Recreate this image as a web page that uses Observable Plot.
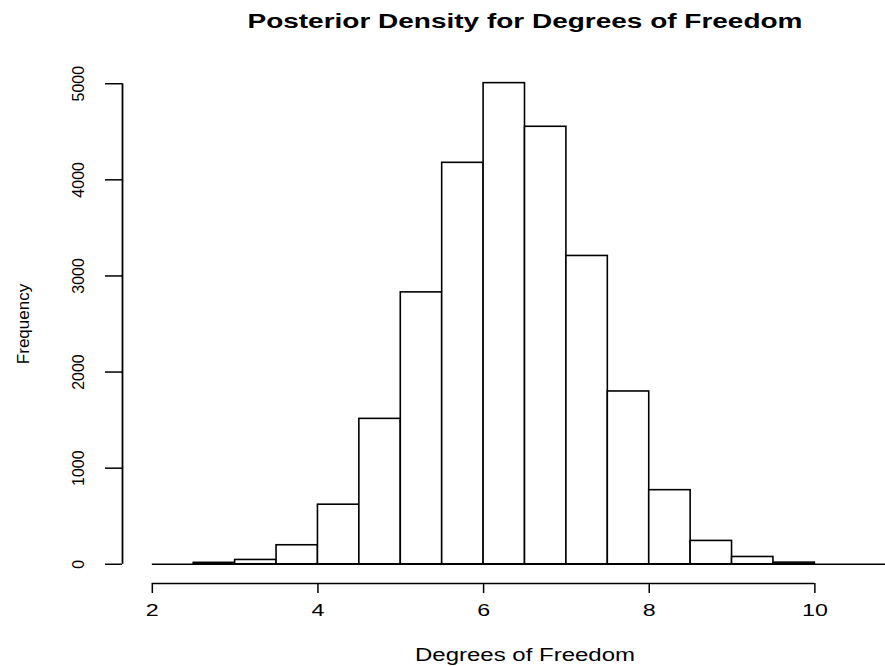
<!DOCTYPE html>
<html>
<head>
<meta charset="utf-8">
<script src="https://cdn.jsdelivr.net/npm/d3@7"></script>
<script src="https://cdn.jsdelivr.net/npm/@observablehq/plot@0.6"></script>
<style>
  html, body { margin: 0; padding: 0; background: #fff; }
  #chart svg { overflow: visible; display: block; }
</style>
</head>
<body>
<div id="chart"></div>
<script>
const binStarts = [2, 2.5, 3, 3.5, 4, 4.5, 5, 5.5, 6, 6.5, 7, 7.5, 8, 8.5, 9, 9.5, 10, 10.5];
const binWidth = 0.5;
const counts = [0, 15, 45, 198, 620, 1513, 2829, 4177, 5006, 4552, 3208, 1798, 771, 243, 76, 17, 0, 0];
const xTicks = [2, 4, 6, 8, 10];
const yTicks = [0, 1000, 2000, 3000, 4000, 5000];
const titleText = "Posterior Density for Degrees of Freedom";
const xLabel = "Degrees of Freedom";
const yLabel = "Frequency";

const bins = binStarts.map((s, i) => ({x1: s, x2: s + binWidth, count: counts[i]}));
const xMin = binStarts[0], xMax = binStarts[binStarts.length - 1] + binWidth;
const xPad = (xMax - xMin) * 0.04;
const yMax = 5000, yPad = yMax * 0.04;

const chart = Plot.plot({
  width: 885,
  height: 666,
  marginLeft: 122,
  marginRight: -42,
  marginTop: 64,
  marginBottom: 83,
  style: {fontFamily: "Liberation Sans, Arial, sans-serif", background: "white", color: "black"},
  x: {domain: [xMin - xPad, xMax + xPad], ticks: xTicks},
  y: {domain: [-yPad, yMax + yPad], ticks: yTicks},
  marks: [
    Plot.ruleY([0], {x1: xMin, x2: xMax, stroke: "black", strokeWidth: 1.6}),
    Plot.rectY(bins.filter(d => d.count > 0), {x1: "x1", x2: "x2", y1: 0, y2: "count", fill: "white", stroke: "black", strokeWidth: 1.6}),
    Plot.ruleY([-yPad], {x1: xTicks[0], x2: xTicks[xTicks.length - 1], stroke: "black", strokeWidth: 1.5}),
    Plot.ruleX([xMin - xPad], {y1: yTicks[0], y2: yTicks[yTicks.length - 1], stroke: "black", strokeWidth: 1.8}),
    Plot.axisX(xTicks, {tickSize: 10, tickPadding: 11, fontSize: 16, label: null, strokeWidth: 1.5, tickFormat: d3.format("d")}),
    Plot.axisY(yTicks, {tickSize: 17, tickPadding: 22, fontSize: 16, tickRotate: -90, label: null, textAnchor: "middle", strokeWidth: 1.5, tickFormat: d3.format("d")}),
    Plot.text([xLabel], {frameAnchor: "bottom", dy: 77, fontSize: 18, text: d => d}),
    Plot.text([yLabel], {frameAnchor: "left", dx: -99, rotate: -90, textAnchor: "middle", fontSize: 17, text: d => d}),
    Plot.text([titleText], {frameAnchor: "top", dy: -50, fontSize: 19.5, fontWeight: "bold", text: d => d})
  ]
});
document.getElementById("chart").appendChild(chart);

// The reference's horizontal text is stretched sideways; widen non-rotated labels to match.
const targets = {[titleText]: 555, [xLabel]: 220};
chart.querySelectorAll("text").forEach(el => {
  const tr = el.getAttribute("transform") || "";
  if (tr.includes("rotate")) return;
  const t = el.textContent;
  const natural = el.getComputedTextLength();
  const len = targets[t] !== undefined ? targets[t] : natural * 1.45;
  el.setAttribute("textLength", len);
  el.setAttribute("lengthAdjust", "spacingAndGlyphs");
});
</script>
</body>
</html>
